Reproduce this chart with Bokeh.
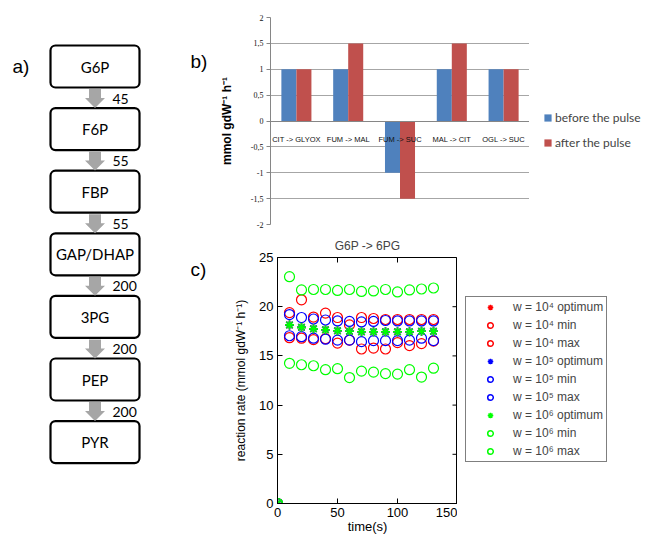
import math
from bokeh.plotting import figure
from bokeh.layouts import row, column
from bokeh.models import (Range1d, FactorRange, Legend, LegendItem, FixedTicker, ColumnDataSource)
from bokeh.transform import dodge
from bokeh.embed import file_html
from bokeh.resources import INLINE
from bokeh.core.properties import value

# ---------------- data ----------------
# panel a: glycolysis chain
metabolites = ["G6P", "F6P", "FBP", "GAP/DHAP", "3PG", "PEP", "PYR"]
fluxes = ["45", "55", "55", "200", "200", "200"]
panel_labels = ["a)", "b)", "c)"]

# panel b: fluxes before / after the pulse
reactions = ["CIT -> GLYOX", "FUM -> MAL", "FUM -> SUC", "MAL -> CIT", "OGL -> SUC"]
before_pulse = [1, 1, -1, 1, 1]
after_pulse = [1, 1.5, -1.5, 1.5, 1]
b_ticks = [-2, -1.5, -1, -0.5, 0, 0.5, 1, 1.5, 2]
b_tick_labels = ["-2", "-1,5", "-1", "-0,5", "0", "0,5", "1", "1,5", "2"]

# panel c: G6P -> 6PG reaction rate
time_s = [0, 10, 20, 30, 40, 50, 60, 70, 80, 90, 100, 110, 120, 130]
w4_opt = [0, 18.15, 17.9, 17.75, 17.65, 17.55, 17.5, 17.45, 17.45, 17.45, 17.45, 17.45, 17.5, 17.5]
w4_min = [0, 16.85, 16.8, 16.65, 16.75, 16.3, 16.6, 15.7, 15.8, 15.7, 16.35, 16.05, 16.25, 16.5]
w4_max = [0, 19.4, 20.7, 18.95, 19.35, 18.9, 18.15, 18.9, 18.8, 18.7, 18.7, 18.7, 18.7, 18.7]
w5_opt = [0, 18.15, 17.9, 17.75, 17.65, 17.55, 17.5, 17.45, 17.45, 17.45, 17.45, 17.45, 17.5, 17.5]
w5_min = [0, 17.05, 16.95, 16.8, 16.7, 16.6, 16.6, 16.45, 16.55, 16.55, 16.55, 16.6, 16.8, 16.55]
w5_max = [0, 19.2, 18.9, 18.75, 18.65, 18.55, 18.5, 18.45, 18.5, 18.6, 18.55, 18.55, 18.55, 18.55]
w6_opt = [0, 18.15, 17.9, 17.75, 17.65, 17.55, 17.5, 17.45, 17.45, 17.45, 17.45, 17.45, 17.5, 17.5]
w6_min = [0, 14.25, 14.1, 14.0, 13.6, 13.7, 12.8, 13.45, 13.35, 13.2, 13.15, 13.6, 12.85, 13.75]
w6_max = [0, 23.05, 21.7, 21.75, 21.75, 21.65, 21.75, 21.55, 21.6, 21.75, 21.5, 21.7, 21.8, 21.9]
c_xticks = [0, 50, 100, 150]
c_yticks = [0, 5, 10, 15, 20, 25]


def blank(width, height):
    f = figure(width=width, height=height, x_range=Range1d(0, 1), y_range=Range1d(0, 1),
               output_backend="svg", toolbar_location=None, x_axis_type=None, y_axis_type=None,
               min_border=0)
    f.grid.visible = False
    f.outline_line_color = None
    return f


# ---------------- panel a (page-pixel coordinates) ----------------
pa = figure(width=215, height=536, x_range=Range1d(0, 215), y_range=Range1d(536, 0),
            output_backend="svg", toolbar_location=None, x_axis_type=None, y_axis_type=None,
            min_border=0)
pa.grid.visible = False
pa.outline_line_color = None

box_top0, box_pitch, box_h = 45.0, 62.6, 42.0
tops = [box_top0 + box_pitch * i for i in range(len(metabolites))]
bots = [t + box_h for t in tops]
mids = [t + box_h / 2 for t in tops]
pa.quad(left=50, right=139, top=tops, bottom=bots, fill_color="white",
        line_color="black", line_width=2.2, border_radius=5)
pa.text(x=94.5, y=mids, text=metabolites, text_font=value("Lato"), text_font_size="15px",
        text_align="center", text_baseline="middle", text_color="black")
cx = 94.5
axs, ays = [], []
for b in bots[:-1]:
    y0 = b + 1.5
    axs.append([cx - 6, cx + 6, cx + 6, cx + 10, cx, cx - 10, cx - 6])
    ays.append([y0, y0, y0 + 9, y0 + 9, y0 + 19, y0 + 9, y0 + 9])
pa.patches(axs, ays, fill_color="#a6a6a6", line_color=None)
pa.text(x=112, y=[b + 11 for b in bots[:-1]], text=fluxes, text_font=value("Lato"),
        text_font_size="14px", text_align="left", text_baseline="middle", text_color="black")
pa.text(x=[12, 190, 190], y=[66, 61, 269], text=panel_labels, text_font=value("Liberation Sans"),
        text_font_size="19px", text_align="left", text_baseline="alphabetic", text_color="black")

# ---------------- panel b ----------------
pb = figure(x_range=FactorRange(factors=reactions), y_range=Range1d(-2, 2), width=314, height=230,
            output_backend="svg", toolbar_location=None, min_border_left=55, min_border_right=0,
            min_border_top=17, min_border_bottom=6)
pb.outline_line_color = None
src_b = ColumnDataSource(dict(reaction=reactions, before=before_pulse, after=after_pulse))
pb.vbar(x=dodge("reaction", -0.145, range=pb.x_range), top="before", bottom=0, width=0.29,
        source=src_b, fill_color="#4F81BD", line_color=None)
pb.vbar(x=dodge("reaction", 0.145, range=pb.x_range), top="after", bottom=0, width=0.29,
        source=src_b, fill_color="#C0504D", line_color=None)

pb.xgrid.visible = False
pb.ygrid.ticker = FixedTicker(ticks=b_ticks)
pb.ygrid.grid_line_color = "#a6a6a6"
pb.yaxis.ticker = FixedTicker(ticks=b_ticks)
pb.yaxis.major_label_overrides = {t: l for t, l in zip(b_ticks, b_tick_labels)}
pb.yaxis.axis_line_color = "#868686"
pb.yaxis.major_tick_line_color = "#868686"
pb.yaxis.major_tick_out = 4
pb.yaxis.major_tick_in = 0
pb.yaxis.minor_tick_line_color = None
pb.yaxis.major_label_text_font = "Liberation Serif"
pb.yaxis.major_label_text_font_size = "8px"
pb.yaxis.major_label_text_color = "#111111"
pb.yaxis.major_label_standoff = 3
pb.yaxis.axis_label = "mmol gdW\u207b\u00b9 h\u207b\u00b9"
pb.yaxis.axis_label_text_font = "Liberation Sans"
pb.yaxis.axis_label_text_font_size = "12px"
pb.yaxis.axis_label_text_font_style = "bold"
pb.yaxis.axis_label_text_color = "black"
pb.yaxis.axis_label_standoff = 14

pb.xaxis.fixed_location = 0
pb.xaxis.axis_line_color = "#868686"
pb.xaxis.major_tick_line_color = None
pb.xaxis.minor_tick_line_color = None
pb.xaxis.major_label_text_font = "Liberation Sans"
pb.xaxis.major_label_text_font_size = "7.5px"
pb.xaxis.major_label_text_color = "#111111"
pb.xaxis.major_label_standoff = 8

# legend of panel b in its own strip (sample glyphs sit outside the strip's view)
pbl = blank(119, 230)
lb1 = pbl.vbar(x=[5], top=[1], width=0.1, fill_color="#4F81BD", line_color=None)
lb2 = pbl.vbar(x=[5], top=[1], width=0.1, fill_color="#C0504D", line_color=None)
leg_b = Legend(items=[LegendItem(label="before the pulse", renderers=[lb1]),
                      LegendItem(label="after the pulse", renderers=[lb2])],
               location=(14, 74), glyph_width=9, glyph_height=9, label_height=9,
               spacing=10, padding=0, margin=0, label_standoff=3,
               label_text_font="Lato", label_text_font_size="12px",
               border_line_color=None, background_fill_alpha=0)
pbl.add_layout(leg_b)

# ---------------- panel c ----------------
pc = figure(x_range=Range1d(0, 150), y_range=Range1d(0, 25), width=242, height=306,
            output_backend="svg", toolbar_location=None, min_border_left=62, min_border_right=0,
            min_border_top=27, min_border_bottom=33)
pc.grid.visible = False
pc.outline_line_color = "black"
for ax in (pc.xaxis, pc.yaxis):
    ax.axis_line_color = "black"
    ax.major_tick_line_color = "black"
    ax.major_tick_in = 5
    ax.major_tick_out = 0
    ax.minor_tick_line_color = None
    ax.major_label_text_font = "Liberation Sans"
    ax.major_label_text_font_size = "13px"
    ax.major_label_text_color = "black"
    ax.major_label_standoff = 4
pc.xaxis.ticker = FixedTicker(ticks=c_xticks)
pc.yaxis.ticker = FixedTicker(ticks=c_yticks)
pc.yaxis.axis_label = "reaction rate (mmol gdW\u207b\u00b9 h\u207b\u00b9)"
pc.yaxis.axis_label_text_font = "Liberation Sans"
pc.yaxis.axis_label_text_font_size = "12px"
pc.yaxis.axis_label_text_font_style = "normal"
pc.yaxis.axis_label_text_color = "black"
pc.yaxis.axis_label_standoff = 8
pc.xaxis.axis_label = "time(s)"
pc.xaxis.axis_label_text_font = "Liberation Sans"
pc.xaxis.axis_label_text_font_size = "13px"
pc.xaxis.axis_label_text_font_style = "normal"
pc.xaxis.axis_label_text_color = "black"
pc.xaxis.axis_label_standoff = -1

pc.title.text = "G6P -> 6PG"
pc.title.align = "center"
pc.title.text_font = "Liberation Sans"
pc.title.text_font_size = "12px"
pc.title.text_font_style = "normal"
pc.title.standoff = 9

# inward tick marks on the top and right edges (half of each dash is clipped by the frame)
pc.scatter(x=c_xticks, y=[25] * len(c_xticks), marker="dash", angle=math.pi / 2, size=10,
           line_color="black", line_width=1)
pc.scatter(x=[150] * len(c_yticks), y=c_yticks, marker="dash", size=10,
           line_color="black", line_width=1)

series = [
    ("w = 10\u2074 optimum", w4_opt, "asterisk", "#FF0000"),
    ("w = 10\u2074 min", w4_min, "circle", "#FF0000"),
    ("w = 10\u2074 max", w4_max, "circle", "#FF0000"),
    ("w = 10\u2075 optimum", w5_opt, "asterisk", "#0000FF"),
    ("w = 10\u2075 min", w5_min, "circle", "#0000FF"),
    ("w = 10\u2075 max", w5_max, "circle", "#0000FF"),
    ("w = 10\u2076 optimum", w6_opt, "asterisk", "#00FF00"),
    ("w = 10\u2076 min", w6_min, "circle", "#00FF00"),
    ("w = 10\u2076 max", w6_max, "circle", "#00FF00"),
]
pcl = blank(191, 306)
items = []
for name, vals, mk, col in series:
    if mk == "circle":
        pc.scatter(time_s, vals, marker="circle", size=10, fill_color=None,
                   line_color=col, line_width=1.2)
        lr = pcl.scatter(x=[5], y=[5], marker="circle", size=7, fill_color=None,
                         line_color=col, line_width=1.5)
    else:
        pc.scatter(time_s, vals, marker="asterisk", size=9, line_color=col, line_width=1.6)
        lr = pcl.scatter(x=[5], y=[5], marker="asterisk", size=8, line_color=col, line_width=1.4)
    items.append(LegendItem(label=name, renderers=[lr]))

leg_c = Legend(items=items, location=(8, 41), glyph_width=42, glyph_height=14, label_height=14,
               spacing=4, padding=3, margin=0, label_standoff=2,
               label_text_font="Liberation Sans", label_text_font_size="12px",
               border_line_color="black", border_line_width=1,
               background_fill_color="white", background_fill_alpha=1)
pcl.add_layout(leg_c)

layout = row(pa, column(row(pb, pbl, spacing=0), row(pc, pcl, spacing=0), spacing=0), spacing=0)
open("out.html", "w").write(file_html(layout, INLINE))
